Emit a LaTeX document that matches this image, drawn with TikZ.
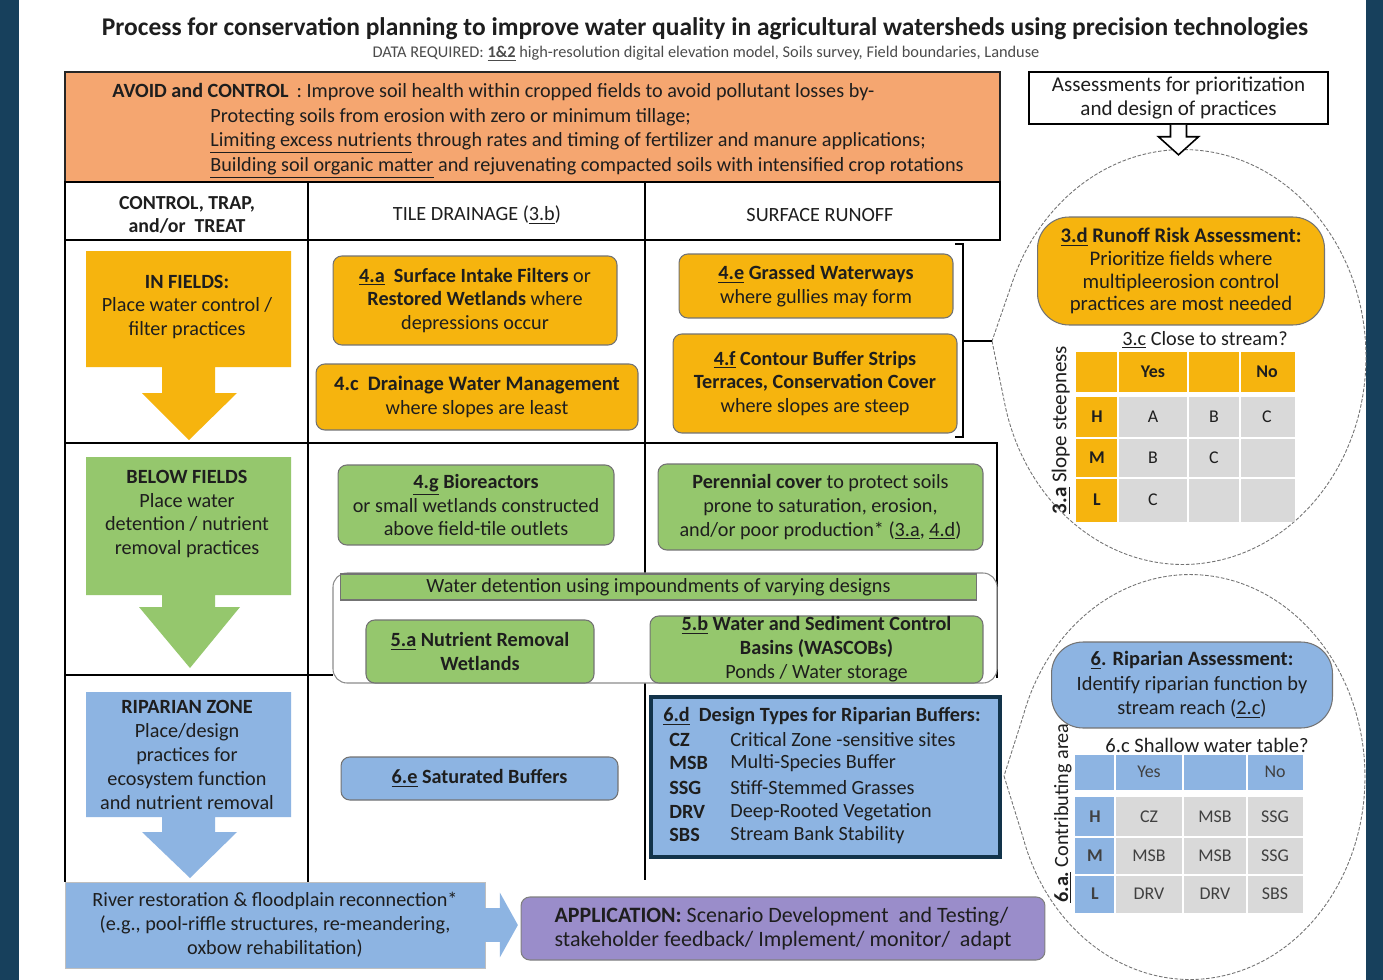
\documentclass[tikz,border=0pt]{standalone}
\usepackage{fontspec}
\setmainfont{Carlito}
\usepackage{xcolor}
\usepackage{tikz}
\usetikzlibrary{calc}
\usetikzlibrary{arrows.meta}
\usetikzlibrary{shapes}
\usetikzlibrary{shapes.callouts}
\usetikzlibrary{positioning}
\tikzset{>=latex}
\definecolor{navy}{HTML}{17405C}
\definecolor{salmon}{HTML}{F5A670}
\definecolor{gold}{HTML}{F6B40E}
\definecolor{leaf}{HTML}{95C76D}
\definecolor{sky}{HTML}{8DB4E2}
\definecolor{lilac}{HTML}{9A8DCA}
\definecolor{cell}{HTML}{D9D9D9}
\definecolor{ink}{HTML}{1E1E1E}
\tikzstyle{tline} = [line width=0.8pt, black]
\tikzstyle{txt} = [inner sep=0pt, align=center, text=ink, font=\fontsize{11.5}{13.6}\selectfont]
\tikzstyle{pbox} = [txt, rounded corners=5pt, draw=black!55, line width=0.6pt]
\tikzstyle{goldbox} = [pbox, fill=gold]
\tikzstyle{leafbox} = [pbox, fill=leaf]
\tikzstyle{skybox} = [pbox, fill=sky]
\tikzstyle{balloon} = [ellipse callout, draw=black!55, dash pattern=on 2pt off 1pt, line width=0.5pt, callout pointer arc=35]
\tikzstyle{ctxt} = [inner sep=0pt, text=ink, font=\fontsize{10.2}{12}\selectfont]

\begin{document}
\begin{tikzpicture}[x=0.02cm, y=-0.02cm]
\useasboundingbox (0,0) rectangle (1383,980);
\fill[navy] (0,0) rectangle (1383,980);
\fill[white] (19,0) rectangle (1366,980);

% title
\node[txt, font=\bfseries\fontsize{14.5}{17}\selectfont] (T) at (705,29) {Process for conservation planning to improve water quality in agricultural watersheds using precision technologies};
\node[txt, text=black!70, font=\fontsize{9.3}{11}\selectfont] (Dt) at (706,54) {DATA REQUIRED: \textbf{\underline{1\&2}} high-resolution digital elevation model, Soils survey, Field boundaries, Landuse};

% assessment panels on the right
\coordinate (tip1) at (992,341);
\coordinate (tip2) at (1004,776);
\node[balloon, minimum width=7.32cm, minimum height=8.3cm, callout absolute pointer={(tip1)}] (E1) at (1183,357) {};
\node[balloon, minimum width=7.0cm, minimum height=8.1cm, callout absolute pointer={(tip2)}] (E2) at (1190,777) {};

\node[txt, draw=black, line width=0.9pt, fill=white, minimum width=5.98cm, minimum height=1.04cm, font=\fontsize{12}{13.2}\selectfont] (S) at (1178.5,98) {Assessments for prioritization\\and design of practices};
\draw[line width=0.9pt, fill=white] ($(S.south)+(-8,0)$) -- ++(0,12) -- ++(-12,0) -- ($(S.south)+(0,30)$) -- ($(S.south)+(20,12)$) -- ++(-12,0) -- ++(0,-12);

% avoid and control
\node[fill=salmon, draw=black!85, line width=1pt, minimum width=18.7cm, minimum height=2.2cm, inner sep=0pt] (O) at (532.5,127) {};
\node[txt, anchor=west] (O1) at (112,92) {\textbf{AVOID and CONTROL} \,: Improve soil health within cropped fields to avoid pollutant losses by-};
\node[txt, anchor=north west, align=left, font=\fontsize{11.5}{13.9}\selectfont] (O2) at (210,108) {Protecting soils from erosion with zero or minimum tillage;\\\underline{Limiting excess nutrients} through rates and timing of fertilizer and manure applications;\\\underline{Building soil organic matter} and rejuvenating compacted soils with intensified crop rotations};

% table lines
\draw[tline] (65,182) rectangle (1000,240);
\draw[tline] (65,240) -- (65,882);
\draw[tline] (308,182) -- (308,882);
\draw[tline] (645,182) -- (645,880);
\draw[tline] (65,443) -- (997,443) -- (997,678);
\draw[tline] (65,675) -- (333,675);
\draw[tline] (955,244) -- (963,244) -- (963,437) -- (955,437);
\draw[tline] (963,341) -- (tip1);

\node[txt, font=\bfseries\fontsize{11.3}{13}\selectfont] (H1) at (187,215) {CONTROL, TRAP,\\and/or\ \ TREAT};
\node[txt] (H2) at (477,215) {TILE DRAINAGE (\underline{3.b})};
\node[txt] (H3) at (820,215) {SURFACE RUNOFF};

% left column
\fill[gold] (86,251) -- (291,251) -- (291,367) -- (215,367) -- (215,393) -- (237,393) -- (189,440) -- (142,393) -- (162,393) -- (162,367) -- (86,367) -- cycle;
\node[txt] (F1) at (187,307) {\textbf{IN FIELDS:}\\Place water control /\\filter practices};
\fill[leaf] (86,457) -- (291,457) -- (291,595) -- (215,595) -- (215,607) -- (240,607) -- (190,668) -- (139,607) -- (162,607) -- (162,595) -- (86,595) -- cycle;
\node[txt] (F2) at (187,514) {\textbf{BELOW FIELDS}\\Place water\\detention / nutrient\\removal practices};
\fill[sky] (86,692) -- (291,692) -- (291,817) -- (215,817) -- (215,832) -- (237,832) -- (190,878) -- (142,832) -- (162,832) -- (162,817) -- (86,817) -- cycle;
\node[txt] (F3) at (187,755) {\textbf{RIPARIAN ZONE}\\Place/design\\practices for\\ecosystem function\\and nutrient removal};

% in fields
\node[goldbox, minimum width=5.68cm, minimum height=1.78cm] (Ia) at (475,300.5) {\textbf{\underline{4.a}\ \ Surface Intake Filters} or\\\textbf{Restored Wetlands} where\\depressions occur};
\node[goldbox, minimum width=6.44cm, minimum height=1.32cm] (Ic) at (477,397) {{\bfseries\fontsize{11.7}{13}\selectfont 4.c\ \ Drainage Water Management}\\where slopes are least};
\node[goldbox, minimum width=5.48cm, minimum height=1.28cm] (Ie) at (816,286) {\textbf{\underline{4.e} Grassed Waterways}\\where gullies may form};
\node[goldbox, minimum width=5.68cm, minimum height=1.98cm] (If) at (815,383.5) {\textbf{\underline{4.f} Contour Buffer Strips}\\\textbf{Terraces, Conservation Cover}\\where slopes are steep};

% below fields
\node[leafbox, minimum width=5.52cm, minimum height=1.6cm] (Bg) at (476,505) {\textbf{\underline{4.g} Bioreactors}\\or small wetlands constructed\\above field-tile outlets};
\node[leafbox, minimum width=6.5cm, minimum height=1.72cm] (Bp) at (820.5,507) {\textbf{Perennial cover} to protect soils\\prone to saturation, erosion,\\and/or poor production* (\underline{3.a}, \underline{4.d})};
\draw[draw=black!45, line width=0.6pt, fill=white, rounded corners=8pt] (333,573) rectangle (997,683);
\node[leafbox, rounded corners=0pt, minimum width=12.74cm, minimum height=0.52cm] (Bw) at (658.5,587) {Water detention using impoundments of varying designs};
\node[leafbox, minimum width=4.56cm, minimum height=1.26cm] (Ba) at (480,651.5) {\textbf{\underline{5.a} Nutrient Removal}\\\textbf{Wetlands}};
\node[leafbox, minimum width=6.66cm, minimum height=1.34cm] (Bb) at (816.5,649.5) {\textbf{\underline{5.b} Water and Sediment Control}\\\textbf{Basins (WASCOBs)}\\Ponds / Water storage};

% riparian zone
\node[skybox, minimum width=5.54cm, minimum height=0.86cm] (Se) at (479.5,778.5) {\textbf{\underline{6.e} Saturated Buffers}};
\node[fill=sky, draw=navy!80!black, line width=1.8pt, minimum width=6.98cm, minimum height=3.2cm, inner sep=0pt] (Dd) at (825.5,777) {};
\node[txt, anchor=west, font=\bfseries\fontsize{11.5}{13}\selectfont] (D0) at (663,716) {\underline{6.d}\ \ Design Types for Riparian Buffers:};
\foreach \a/\d/\y [count=\i] in {CZ/Critical Zone\ -sensitive sites/740, MSB/Multi-Species Buffer/763, SSG/Stiff-Stemmed Grasses/788, DRV/Deep-Rooted Vegetation/812, SBS/Stream Bank Stability/835}
{
\node[txt, anchor=west, font=\bfseries\fontsize{11.5}{13}\selectfont] (Da\i) at (669,\y) {\a};
\node[txt, anchor=west] (Dn\i) at (730,\y) {\d};
}

% runoff risk
\node[goldbox, rounded corners=18pt, minimum width=5.74cm, minimum height=2.16cm, font=\fontsize{11.8}{13}\selectfont] (Rk) at (1181,271) {\textbf{\underline{3.d} Runoff Risk Assessment:}\\Prioritize fields where\\multipleerosion control\\practices are most needed};
\node[txt] (Lc) at (1205,340) {\underline{3.c} Close to stream?};
\node[txt, rotate=90, font=\fontsize{12}{13}\selectfont] (La) at (1061,430) {\textbf{\underline{3.a}} Slope steepness};
\fill[gold] (1076,352) rectangle (1295,392);
\fill[gold] (1076,397) rectangle (1118,522);
\fill[cell] (1118,397) rectangle (1295,522);
\draw[white, line width=1.2pt] (1118,352) -- (1118,522) (1188,352) -- (1188,522) (1240,352) -- (1240,522) (1076,438) -- (1295,438) (1076,478) -- (1295,478);
\foreach \x/\y/\t [count=\i] in {1153/372/\textbf{Yes}, 1267/372/\textbf{No}, 1097/417/\textbf{H}, 1097/458/\textbf{M}, 1097/500/\textbf{L}, 1153/417/A, 1214/417/B, 1267/417/C, 1153/458/B, 1214/458/C, 1153/500/C}
  \node[ctxt] (r\i) at (\x,\y) {\t};

% riparian assessment
\node[skybox, rounded corners=18pt, minimum width=5.62cm, minimum height=1.72cm, font=\fontsize{11.6}{14}\selectfont] (Ra) at (1192,685) {\textbf{\underline{6}. Riparian Assessment:}\\Identify riparian function by\\stream reach (\underline{2.c})};
\node[txt, font=\fontsize{11.7}{12}\selectfont] (Lw) at (1207,745) {6.c Shallow water table?};
\node[txt, rotate=90] (Lb) at (1063,813) {\textbf{\underline{6.a.}} Contributing area};
\fill[sky] (1075,755) rectangle (1303,790);
\fill[sky] (1075,797) rectangle (1115,913);
\fill[cell] (1115,797) rectangle (1303,913);
\draw[white, line width=1.2pt] (1115,755) -- (1115,913) (1183,755) -- (1183,913) (1247,755) -- (1247,913) (1075,837) -- (1303,837) (1075,875) -- (1303,875);
\foreach \x/\y/\t [count=\i] in {1149/772/Yes, 1275/772/No, 1095/817/\textbf{H}, 1095/856/\textbf{M}, 1095/894/\textbf{L}, 1149/817/CZ, 1215/817/MSB, 1275/817/SSG, 1149/856/MSB, 1215/856/MSB, 1275/856/SSG, 1149/894/DRV, 1215/894/DRV, 1275/894/SBS}
  \node[ctxt, text=black!75] (s\i) at (\x,\y) {\t};

% bottom row
\node[txt, fill=sky, draw=black!25, line width=0.4pt, minimum width=8.4cm, minimum height=1.72cm] (R) at (275,925) {River restoration \& floodplain reconnection*\\(e.g., pool-riffle structures, re-meandering,\\oxbow rehabilitation)};
\node[txt, fill=lilac, draw=black!50, line width=0.6pt, rounded corners=5pt, align=left, minimum width=10.48cm, minimum height=1.26cm, font=\fontsize{12.5}{14}\selectfont] (P) at (783,928.5) {\textbf{APPLICATION:} Scenario Development\ \ and Testing/\\stakeholder feedback/ Implement/ monitor/\ \ adapt};
\draw[sky, line width=0.68cm, -{Triangle[length=0.36cm 0 0, width=1.28cm 0 0]}, shorten >=1.5pt] (R.east) -- (P.west |- R.east);
\end{tikzpicture}
\end{document}
